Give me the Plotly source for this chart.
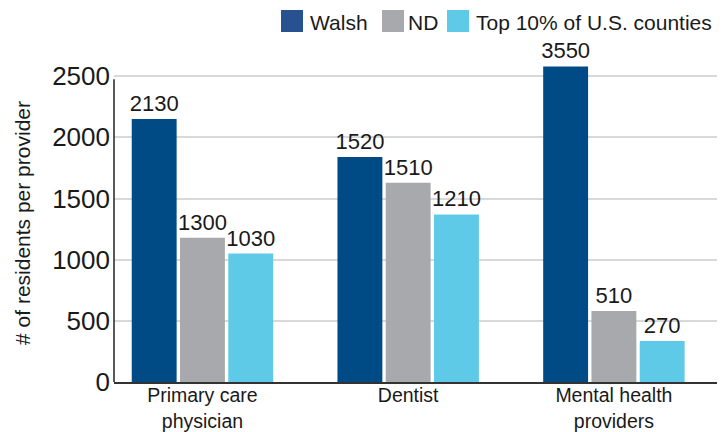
import plotly.graph_objects as go

categories = ["Primary care<br>physician", "Dentist", "Mental health<br>providers"]
series_names = ["Walsh", "ND", "Top 10% of U.S. counties"]
walsh_bar = [2150, 1840, 2580]
nd_bar = [1180, 1630, 580]
top10_bar = [1050, 1370, 335]
walsh_labels = ["2130", "1520", "3550"]
nd_labels = ["1300", "1510", "510"]
top10_labels = ["1030", "1210", "270"]
y_ticks = [0, 500, 1000, 1500, 2000, 2500]

bar_colors = ["#004A86", "#A7A9AC", "#5FCAE8"]
legend_colors = ["#28528F", "#A7A9AC", "#5FCAE8"]
FONT = "Liberation Sans, Arial, Helvetica, sans-serif"

OFF = 8  # page body margin
W, H = 725 - OFF, 432 - OFF
L, R, T, B = 114 - OFF, 0, 64 - OFF, 50
PW, PH = W - L - R, H - T - B

fig = go.Figure()
for name, vals, labs, col in zip(series_names, [walsh_bar, nd_bar, top10_bar],
                                 [walsh_labels, nd_labels, top10_labels], bar_colors):
    fig.add_trace(go.Bar(
        name=name, x=list(range(len(categories))), y=vals, text=labs,
        textposition="outside", constraintext="none", cliponaxis=False,
        textfont=dict(family=FONT, size=22, color="#1a1a1a"),
        marker=dict(color=col, line=dict(width=0)), showlegend=False,
    ))

def px_x(p):
    return (p - OFF - L) / PW

def px_y(p):
    return (H - B - (p - OFF)) / PH

shapes = []
annotations = []
# custom legend: swatch left px, text left px (page pixels)
legend_pos = [(281, 308), (382, 406), (447, 474)]
for (sx, tx), name, col in zip(legend_pos, series_names, legend_colors):
    shapes.append(dict(type="rect", xref="paper", yref="paper",
                       x0=px_x(sx), x1=px_x(sx + 22), y0=px_y(32), y1=px_y(10),
                       fillcolor=col, line=dict(width=0)))
    annotations.append(dict(xref="paper", yref="paper", x=px_x(tx), y=px_y(22),
                            xanchor="left", yanchor="middle", showarrow=False,
                            text=name, font=dict(family=FONT, size=21, color="#1a1a1a")))

# y axis line
shapes.append(dict(type="line", xref="paper", yref="y", x0=0, x1=0, y0=0, y1=2475,
                   line=dict(color="#222222", width=1.5)))

fig.update_layout(
    width=W, height=H,
    margin=dict(l=L, r=R, t=T, b=B, autoexpand=False),
    plot_bgcolor="white", paper_bgcolor="white",
    barmode="group", bargap=0.296, bargroupgap=0.07,
    font=dict(family=FONT, color="#1a1a1a"),
    shapes=shapes, annotations=annotations,
    xaxis=dict(
        tickmode="array", tickvals=list(range(len(categories))), ticktext=categories,
        range=[-0.43, 2.54], showgrid=False, zeroline=False,
        showline=True, linecolor="#333333", linewidth=1.5,
        tickfont=dict(family=FONT, size=19.5, color="#1a1a1a"), ticks="",
        ticklabelstandoff=-5,
    ),
    yaxis=dict(
        range=[0, 2600], tickvals=y_ticks, showgrid=True, gridcolor="#D9D9D9", gridwidth=2,
        zeroline=False, showline=False,
        tickfont=dict(family=FONT, size=26, color="#1a1a1a"), ticks="",
        ticklabelstandoff=3,
        title=dict(text="# of residents per provider",
                   font=dict(family=FONT, size=21, color="#1a1a1a"), standoff=15),
    ),
)

fig.write_html("out.html")
